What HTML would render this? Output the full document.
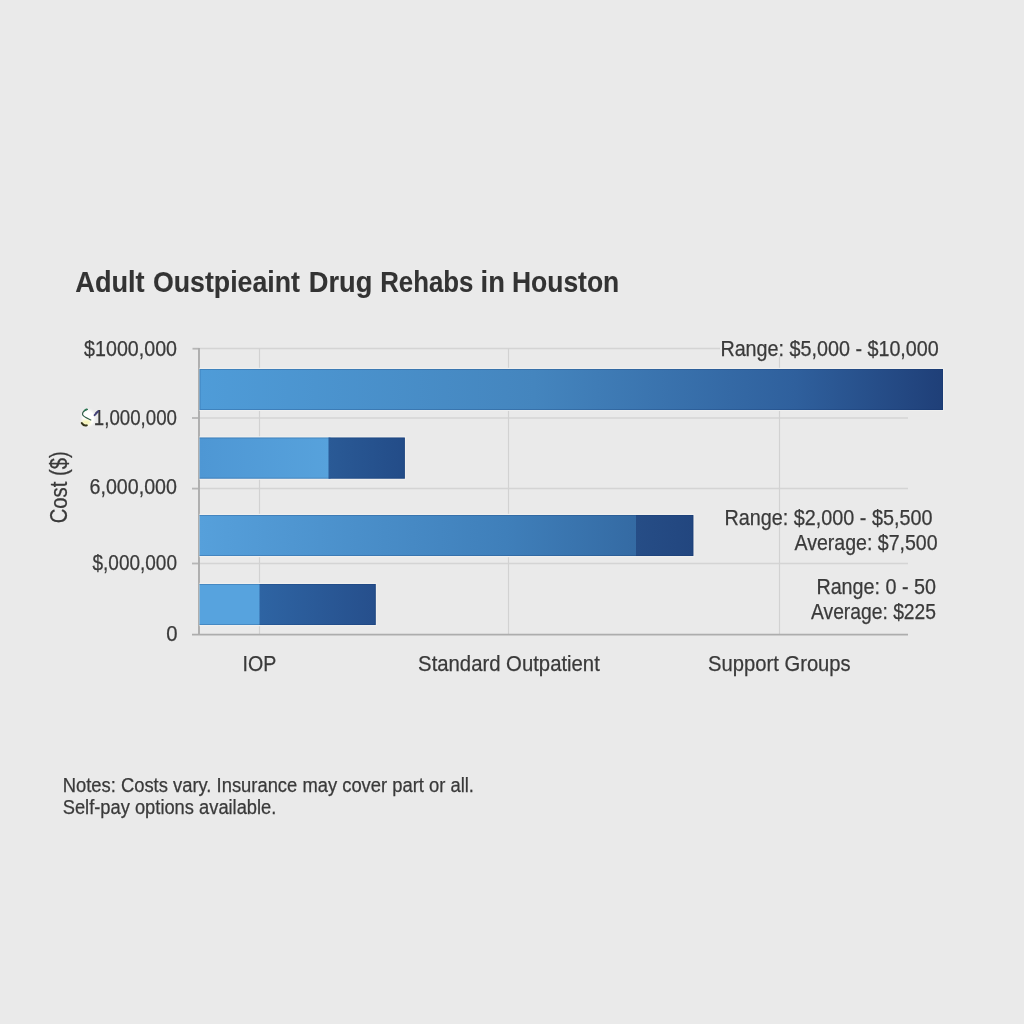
<!DOCTYPE html>
<html>
<head>
<meta charset="utf-8">
<style>
html,body{margin:0;padding:0;width:1024px;height:1024px;overflow:hidden;background:#eaeaea;}
svg{display:block;will-change:transform;}
text{font-family:"Liberation Sans",sans-serif;fill:#3a3a3a;stroke:#3a3a3a;stroke-width:0.25px;}
.ttl{fill:#333333;stroke:#333333;stroke-width:0.1px;font-weight:bold;}
</style>
</head>
<body>
<svg width="1024" height="1024" viewBox="0 0 1024 1024">
<defs>
  <linearGradient id="g1" x1="0" x2="1" y1="0" y2="0">
    <stop offset="0" stop-color="#4f9cd8"/>
    <stop offset="0.45" stop-color="#4485be"/>
    <stop offset="0.8" stop-color="#2f609d"/>
    <stop offset="1" stop-color="#1f3f78"/>
  </linearGradient>
  <linearGradient id="g3" x1="0" x2="1" y1="0" y2="0">
    <stop offset="0" stop-color="#56a0db"/>
    <stop offset="0.7" stop-color="#3f7fba"/>
    <stop offset="1" stop-color="#346aa3"/>
  </linearGradient>
  <linearGradient id="g2l" x1="0" x2="1" y1="0" y2="0">
    <stop offset="0" stop-color="#4e97d4"/>
    <stop offset="1" stop-color="#57a2dc"/>
  </linearGradient>
  <linearGradient id="g2" x1="0" x2="1" y1="0" y2="0">
    <stop offset="0" stop-color="#2a5a96"/>
    <stop offset="1" stop-color="#234c88"/>
  </linearGradient>
  <linearGradient id="g5" x1="0" x2="1" y1="0" y2="0">
    <stop offset="0" stop-color="#264d86"/>
    <stop offset="1" stop-color="#22467f"/>
  </linearGradient>
  <linearGradient id="g4" x1="0" x2="1" y1="0" y2="0">
    <stop offset="0" stop-color="#2e64a3"/>
    <stop offset="1" stop-color="#264f8c"/>
  </linearGradient>
  <filter id="soft" x="-50%" y="-50%" width="200%" height="200%"><feGaussianBlur stdDeviation="0.8"/></filter>
</defs>
<rect x="0" y="0" width="1024" height="1024" fill="#eaeaea"/>

<g id="graphics">

<!-- gridlines -->
<g stroke="#d4d4d4" stroke-width="1.5">
  <line x1="199" y1="348.6" x2="908" y2="348.6"/>
  <line x1="199" y1="418" x2="908" y2="418"/>
  <line x1="199" y1="488.6" x2="908" y2="488.6"/>
  <line x1="199" y1="563.5" x2="908" y2="563.5"/>
</g>
<g stroke="#d2d2d2" stroke-width="1.2">
  <line x1="259.5" y1="348" x2="259.5" y2="634"/>
  <line x1="508.5" y1="348" x2="508.5" y2="634"/>
  <line x1="779.5" y1="348" x2="779.5" y2="634"/>
</g>
<!-- ticks -->
<g stroke="#b6b6b6" stroke-width="1.8">
  <line x1="192.5" y1="348.7" x2="199" y2="348.7"/>
  <line x1="192" y1="418" x2="199" y2="418"/>
  <line x1="192" y1="488.6" x2="199" y2="488.6"/>
  <line x1="192" y1="563.5" x2="199" y2="563.5"/>
</g>
<!-- axes -->
<g stroke="#adadad" stroke-width="1.9">
  <line x1="199" y1="347.9" x2="199" y2="635"/>
  <line x1="192" y1="634.6" x2="908" y2="634.6"/>
</g>

<!-- bars -->
<g fill="#efefee">
  <rect x="199.5" y="367.8" width="744.8" height="43.2"/>
  <rect x="199.5" y="436.3" width="206.5" height="43.5"/>
  <rect x="199.5" y="513.8" width="495" height="43.4"/>
  <rect x="199.5" y="582.8" width="177.5" height="43.4"/>
</g>
<rect x="199.5" y="369" width="743.5" height="41" fill="url(#g1)"/>
<rect x="199.5" y="437.5" width="131" height="41.2" fill="url(#g2l)"/>
<rect x="328.5" y="437.5" width="76.4" height="41.2" fill="url(#g2)"/>
<rect x="199.5" y="515" width="438" height="41" fill="url(#g3)"/>
<rect x="636" y="515" width="57.4" height="41" fill="url(#g5)"/>
<rect x="199.5" y="584" width="62" height="41" fill="#57a3de"/>
<rect x="259.5" y="584" width="116.3" height="41" fill="url(#g4)"/>
<g fill="none" stroke="#0c2c66" stroke-opacity="0.22" stroke-width="1">
  <rect x="200" y="369.5" width="742.5" height="40"/>
  <path d="M199.5,438 H404.4 V478.2 H199.5"/>
  <path d="M199.5,515.5 H692.9 V555.5 H199.5"/>
  <path d="M199.5,584.5 H375.3 V624.5 H199.5"/>
</g>
<rect x="720" y="339" width="219" height="17.5" fill="#eaeaea"/>
</g>
<g id="texts">
<text id="t0" x="75.30" y="291.8" font-size="29.6" textLength="69.30" lengthAdjust="spacingAndGlyphs" class="ttl">Adult</text>
<text id="t1" x="153.00" y="291.8" font-size="29.6" textLength="147.00" lengthAdjust="spacingAndGlyphs" class="ttl">Oustpieaint</text>
<text id="t2" x="308.80" y="291.8" font-size="29.6" textLength="63.60" lengthAdjust="spacingAndGlyphs" class="ttl">Drug</text>
<text id="t3" x="380.20" y="291.8" font-size="29.6" textLength="93.20" lengthAdjust="spacingAndGlyphs" class="ttl">Rehabs</text>
<text id="t4" x="480.60" y="291.8" font-size="29.6" textLength="24.30" lengthAdjust="spacingAndGlyphs" class="ttl">in</text>
<text id="t5" x="512.00" y="291.8" font-size="29.6" textLength="107.20" lengthAdjust="spacingAndGlyphs" class="ttl">Houston</text>
<text id="y1" x="84.10" y="356.0" font-size="21.8" textLength="92.90" lengthAdjust="spacingAndGlyphs" >$1000,000</text>
<text id="y2" x="93.80" y="424.9" font-size="21.8" textLength="83.20" lengthAdjust="spacingAndGlyphs" >1,000,000</text>
<text id="y3" x="89.50" y="494.4" font-size="21.8" textLength="87.50" lengthAdjust="spacingAndGlyphs" >6,000,000</text>
<text id="y4" x="92.50" y="570.1" font-size="21.8" textLength="84.50" lengthAdjust="spacingAndGlyphs" >$,000,000</text>
<text id="y0" x="166.20" y="641.4" font-size="21.8" textLength="11.30" lengthAdjust="spacingAndGlyphs" >0</text>
<text id="IOP" x="242.50" y="670.9" font-size="21.8" textLength="33.80" lengthAdjust="spacingAndGlyphs" >IOP</text>
<text id="Std" x="418.10" y="671.4" font-size="21.8" textLength="181.70" lengthAdjust="spacingAndGlyphs" >Standard Outpatient</text>
<text id="Sup" x="708.10" y="671.1" font-size="21.8" textLength="142.60" lengthAdjust="spacingAndGlyphs" >Support Groups</text>
<text id="R1" x="720.40" y="356.4" font-size="21.7" textLength="218.40" lengthAdjust="spacingAndGlyphs" >Range: $5,000 - $10,000</text>
<text id="R2" x="724.60" y="524.8" font-size="21.7" textLength="207.80" lengthAdjust="spacingAndGlyphs" >Range: $2,000 - $5,500</text>
<text id="A2" x="794.50" y="549.6" font-size="21.7" textLength="143.10" lengthAdjust="spacingAndGlyphs" >Average: $7,500</text>
<text id="R3" x="816.40" y="593.6" font-size="21.7" textLength="119.60" lengthAdjust="spacingAndGlyphs" >Range: 0 - 50</text>
<text id="A3" x="811.00" y="618.5" font-size="21.7" textLength="125.00" lengthAdjust="spacingAndGlyphs" >Average: $225</text>
<text id="N1" x="62.70" y="791.5" font-size="19.5" textLength="411.30" lengthAdjust="spacingAndGlyphs" >Notes: Costs vary. Insurance may cover part or all.</text>
<text id="N2" x="62.70" y="814.4" font-size="19.5" textLength="213.70" lengthAdjust="spacingAndGlyphs" >Self-pay options available.</text>
</g>
<g id="overlay">
<!-- glitchy dollar -->
<g>
  <ellipse cx="88.3" cy="418" rx="6.6" ry="8.2" fill="#ffffff" filter="url(#soft)"/>
  <ellipse cx="88.8" cy="416.5" rx="4.8" ry="5.2" fill="#ffffff"/>
  <ellipse cx="86.2" cy="422.3" rx="4.4" ry="2.6" fill="#f6f4b8" filter="url(#soft)"/>
  <path d="M87.4,409.4 C85.2,410 82.6,411.8 82.5,414.2 C82.5,416.4 87.2,418.2 90.8,419.9" fill="none" stroke="#2d5a44" stroke-width="1.1" stroke-linecap="round"/>
  <path d="M86.7,409.3 C85.8,409.7 85.2,410.1 84.7,410.5" fill="none" stroke="#2b7a55" stroke-width="1.6" stroke-linecap="round"/>
  <path d="M81.8,423.1 C83.2,425.2 85.1,426 86.8,425.3" fill="none" stroke="#35351a" stroke-width="2" stroke-linecap="round"/>
  <path d="M94.6,415.2 L98.2,411.3" fill="none" stroke="#45437c" stroke-width="1.9" stroke-linecap="round"/>
</g>

<text transform="translate(66.8,487.3) rotate(-90)" font-size="23.5" text-anchor="middle" textLength="72" lengthAdjust="spacingAndGlyphs">Cost ($)</text>
</g>
</svg>
</body>
</html>
